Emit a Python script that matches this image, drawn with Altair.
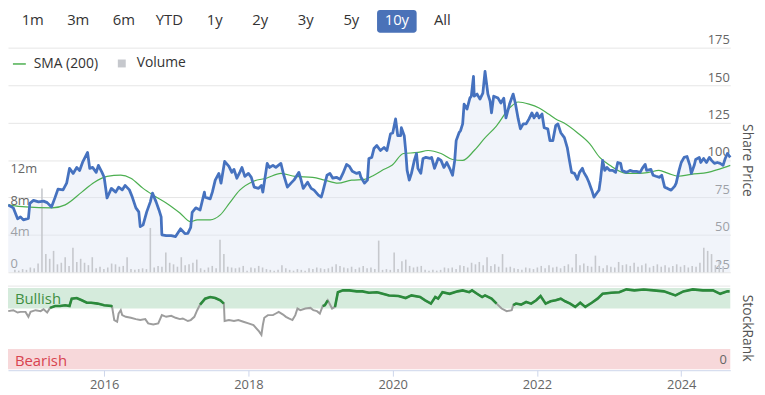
import altair as alt
import pandas as pd
import numpy as np

# ---------------- data ----------------
BUTTONS = ["1m", "3m", "6m", "YTD", "1y", "2y", "3y", "5y", "10y", "All"]
ACTIVE_BUTTON = "10y"

YEAR_TICKS = [2016, 2018, 2020, 2022, 2024]
PRICE_TICKS = [25, 50, 75, 100, 125, 150, 175]
VOLUME_TICKS = [0, 4, 8, 12]
RANK_TICKS = [0]

TIME_DOMAIN = [2014.667, 2024.68]
PRICE_DOMAIN = [25, 175]
VOLUME_DOMAIN = [0, 28.4]
RANK_DOMAIN = [0, 102.5]
BULLISH_LEVEL = 75

BAND_NAMES = ["Bullish", "Bearish"]
BAND_LO = [75, 0]
BAND_HI = [100, 25]
BAND_LABEL_AT = [87, 10]

# share price (decimal year, price)
PRICE_POINTS = [
    (2014.67, 69.9), (2014.74, 68), (2014.80, 60.7), (2014.84, 62), (2014.88, 60), (2014.95, 61),
    (2014.97, 71), (2015.02, 73), (2015.09, 72), (2015.16, 72.5), (2015.21, 71.5), (2015.27, 68.6),
    (2015.32, 75), (2015.36, 80.5), (2015.43, 80), (2015.48, 84.5), (2015.52, 94.4), (2015.57, 91),
    (2015.62, 95), (2015.66, 93), (2015.70, 98.3), (2015.77, 105), (2015.80, 94.4), (2015.84, 95),
    (2015.89, 91.7), (2015.92, 96.4), (2015.97, 91.7), (2016.00, 88.4), (2016.04, 74.6), (2016.10, 81),
    (2016.16, 78.5), (2016.20, 81.8), (2016.25, 80), (2016.29, 83), (2016.35, 80), (2016.39, 75.2),
    (2016.44, 68), (2016.48, 65.3), (2016.50, 55.4), (2016.54, 56.7), (2016.59, 65.3), (2016.64, 72),
    (2016.67, 77.9), (2016.72, 72), (2016.76, 66.6), (2016.79, 62), (2016.80, 50), (2016.86, 49.4),
    (2016.93, 49.4), (2016.99, 48.8), (2017.06, 54), (2017.12, 50.8), (2017.16, 51), (2017.20, 55),
    (2017.22, 65), (2017.27, 68), (2017.33, 66.6), (2017.39, 78.5), (2017.40, 75.2), (2017.47, 74),
    (2017.50, 78.5), (2017.54, 86.5), (2017.59, 91), (2017.62, 84.5), (2017.67, 99), (2017.73, 95.7),
    (2017.77, 91.7), (2017.80, 93.7), (2017.84, 87.8), (2017.88, 91.7), (2017.91, 95), (2017.95, 89),
    (2018.00, 91), (2018.04, 88.4), (2018.08, 81.8), (2018.14, 81), (2018.18, 83), (2018.20, 78.5),
    (2018.26, 97.7), (2018.29, 95), (2018.34, 96.4), (2018.38, 95), (2018.45, 97.7), (2018.49, 89.8),
    (2018.54, 81.8), (2018.59, 84.5), (2018.63, 86.5), (2018.70, 91.7), (2018.72, 88.4), (2018.76, 81),
    (2018.82, 85.1), (2018.87, 81), (2018.91, 79.8), (2018.97, 76.5), (2019.01, 75.2), (2019.03, 78.5),
    (2019.09, 89.8), (2019.13, 91), (2019.17, 87.8), (2019.22, 88.4), (2019.27, 87), (2019.31, 91),
    (2019.36, 97), (2019.40, 95.7), (2019.44, 92.4), (2019.50, 91), (2019.54, 91.7), (2019.56, 88.4),
    (2019.61, 84.5), (2019.65, 86.5), (2019.67, 101), (2019.71, 101.7), (2019.74, 107.6), (2019.78, 109.6),
    (2019.83, 106.3), (2019.88, 108.3), (2019.92, 106.3), (2019.97, 117.5), (2020.00, 118), (2020.04, 127.4),
    (2020.07, 116.2), (2020.11, 116.2), (2020.12, 121.5), (2020.16, 116.2), (2020.18, 106.3), (2020.20, 93),
    (2020.23, 86.5), (2020.26, 91), (2020.30, 99.7), (2020.33, 104.3), (2020.35, 94.4), (2020.39, 91),
    (2020.42, 101), (2020.46, 101.7), (2020.52, 101), (2020.54, 101.7), (2020.58, 94.4), (2020.63, 101),
    (2020.67, 99.7), (2020.71, 95), (2020.75, 98.3), (2020.79, 94.4), (2020.83, 89.8), (2020.86, 99.7),
    (2020.88, 112.9), (2020.92, 118.2), (2020.94, 119.5), (2020.97, 124.1), (2020.99, 137.3), (2021.03, 134),
    (2021.07, 141.3), (2021.09, 142.6), (2021.12, 155.8), (2021.13, 142.6), (2021.17, 144), (2021.21, 140.6),
    (2021.25, 144.6), (2021.28, 159.1), (2021.32, 144), (2021.35, 139.3), (2021.37, 131.4), (2021.40, 142.6),
    (2021.46, 141.3), (2021.50, 138), (2021.54, 141.3), (2021.57, 128.1), (2021.62, 137.3), (2021.67, 144),
    (2021.70, 138), (2021.74, 127.4), (2021.77, 120.8), (2021.81, 124.1), (2021.85, 124.1), (2021.89, 127.4),
    (2021.93, 131.4), (2021.96, 128.1), (2022.00, 131.4), (2022.03, 128.1), (2022.07, 130.7), (2022.10, 121.5),
    (2022.15, 120.8), (2022.18, 112.9), (2022.22, 112.9), (2022.26, 123), (2022.29, 124.1), (2022.33, 118.2),
    (2022.38, 114.9), (2022.42, 108.3), (2022.45, 99.7), (2022.48, 91.7), (2022.52, 91), (2022.56, 87),
    (2022.59, 91.7), (2022.63, 94.4), (2022.65, 91.7), (2022.69, 88.4), (2022.72, 85.1), (2022.76, 79.8),
    (2022.79, 75.2), (2022.83, 77.9), (2022.86, 79.8), (2022.88, 86.5), (2022.91, 99.7), (2022.94, 93),
    (2022.97, 95), (2023.01, 93), (2023.05, 93), (2023.09, 91.7), (2023.12, 98.3), (2023.16, 97.7),
    (2023.18, 93), (2023.24, 91.7), (2023.29, 93), (2023.33, 92.4), (2023.38, 92.4), (2023.43, 91.7),
    (2023.46, 94.4), (2023.50, 97), (2023.52, 93), (2023.58, 93.7), (2023.61, 89.8), (2023.65, 89.1),
    (2023.70, 88.4), (2023.73, 89.8), (2023.77, 81.8), (2023.81, 81), (2023.86, 79.8), (2023.91, 82.5),
    (2023.93, 84.5), (2023.97, 93), (2024.00, 98.3), (2024.04, 101.7), (2024.08, 102.3), (2024.12, 96.4),
    (2024.14, 91), (2024.18, 96.4), (2024.20, 100.3), (2024.25, 101.7), (2024.27, 98.3), (2024.31, 101),
    (2024.35, 98.3), (2024.39, 101.7), (2024.42, 99.7), (2024.46, 97.7), (2024.50, 98.3), (2024.54, 97.7),
    (2024.58, 96.4), (2024.61, 101), (2024.64, 104.3), (2024.68, 101.7),
]

# 200-day simple moving average
SMA_POINTS = [
    (2014.67, 70), (2014.91, 68.6), (2015.28, 68), (2015.46, 70), (2015.69, 78.5), (2015.86, 85),
    (2016.04, 89), (2016.23, 89.8), (2016.37, 87.8), (2016.54, 81), (2016.68, 76.5), (2016.86, 71.3),
    (2017.05, 64.6), (2017.20, 58.7), (2017.29, 60), (2017.47, 60), (2017.61, 63.3), (2017.74, 71.3),
    (2017.88, 79.8), (2018.07, 85.8), (2018.25, 87.8), (2018.45, 91), (2018.65, 89), (2018.89, 88.4),
    (2019.06, 86.5), (2019.24, 84.5), (2019.43, 86.5), (2019.61, 87), (2019.74, 89.8), (2019.85, 93),
    (2019.99, 96.4), (2020.15, 104.3), (2020.35, 105), (2020.49, 106.3), (2020.67, 104.3), (2020.83, 100.3),
    (2020.97, 99.7), (2021.13, 106.3), (2021.27, 114.2), (2021.44, 122.8), (2021.62, 134.7), (2021.74, 138.7),
    (2021.89, 137.3), (2022.03, 134.7), (2022.16, 130.7), (2022.26, 127.4), (2022.37, 124.8), (2022.56, 118.2),
    (2022.73, 110.9), (2022.87, 101.7), (2023.01, 96.4), (2023.24, 91), (2023.42, 91), (2023.55, 91.7),
    (2023.69, 93), (2023.82, 91), (2023.96, 89.1), (2024.14, 90.4), (2024.37, 91.7), (2024.60, 95),
    (2024.68, 96.4),
]

# StockRank (0-100)
RANK_POINTS = [
    (2014.67, 71.6), (2014.74, 72.8), (2014.80, 69.9), (2014.84, 70.7), (2014.91, 70.7), (2014.95, 64.6),
    (2014.98, 70.7), (2015.05, 72.8), (2015.12, 71.6), (2015.16, 74), (2015.21, 69.9), (2015.25, 75.6),
    (2015.32, 78), (2015.39, 78), (2015.46, 78.9), (2015.52, 78), (2015.55, 87), (2015.62, 87.8),
    (2015.69, 85), (2015.76, 82), (2015.82, 82), (2015.91, 80.9), (2016.00, 78.9), (2016.10, 78),
    (2016.11, 77), (2016.14, 60.6), (2016.18, 58.5), (2016.20, 68.7), (2016.23, 72.8), (2016.25, 66.7),
    (2016.30, 64.6), (2016.37, 63.4), (2016.44, 61.8), (2016.50, 60.6), (2016.57, 61.8), (2016.61, 56.5),
    (2016.68, 55.3), (2016.75, 56.5), (2016.80, 66.7), (2016.86, 64.6), (2016.93, 65.9), (2016.99, 63.4),
    (2017.05, 61.8), (2017.09, 62.6), (2017.16, 59.4), (2017.20, 60.6), (2017.25, 64.6), (2017.29, 72.8),
    (2017.33, 79.7), (2017.40, 87), (2017.47, 89), (2017.54, 87.8), (2017.61, 85), (2017.66, 80.9),
    (2017.67, 59.4), (2017.73, 60.6), (2017.80, 59.4), (2017.86, 60.6), (2017.93, 58.5), (2018.00, 56.5),
    (2018.07, 54.5), (2018.11, 50.4), (2018.15, 46.3), (2018.18, 42.3), (2018.20, 54.5), (2018.22, 63.4),
    (2018.27, 66.7), (2018.34, 66.7), (2018.38, 68.7), (2018.42, 70.7), (2018.48, 67.4), (2018.52, 64.6),
    (2018.56, 62.6), (2018.61, 60.6), (2018.65, 66.7), (2018.68, 74.8), (2018.72, 72.8), (2018.79, 74.8),
    (2018.86, 75.6), (2018.90, 72.8), (2018.95, 71.6), (2018.99, 68.7), (2019.03, 78), (2019.06, 78.9),
    (2019.10, 85), (2019.16, 74.8), (2019.20, 76.8), (2019.24, 95), (2019.31, 97.2), (2019.40, 97.2),
    (2019.50, 96), (2019.58, 96), (2019.67, 94.3), (2019.78, 95), (2019.81, 94.3), (2019.95, 91),
    (2020.08, 90.2), (2020.18, 87.8), (2020.26, 91), (2020.38, 89), (2020.45, 85), (2020.53, 80.9),
    (2020.59, 89), (2020.63, 87), (2020.69, 95), (2020.79, 93), (2020.90, 96), (2020.97, 97.2),
    (2021.06, 95), (2021.10, 97.2), (2021.17, 93), (2021.24, 89), (2021.28, 91), (2021.37, 87),
    (2021.44, 80.9), (2021.51, 74.8), (2021.58, 71.6), (2021.65, 72.8), (2021.67, 78.9), (2021.71, 80.9),
    (2021.78, 79.7), (2021.85, 82.9), (2021.92, 80.9), (2021.99, 85), (2022.05, 90.2), (2022.12, 80.9),
    (2022.19, 83.8), (2022.26, 85), (2022.33, 87), (2022.39, 83.8), (2022.46, 80.9), (2022.53, 76.8),
    (2022.60, 82), (2022.67, 76.8), (2022.76, 82), (2022.84, 87), (2022.91, 93), (2023.03, 94.3),
    (2023.14, 95), (2023.24, 98.4), (2023.35, 97.2), (2023.48, 98.4), (2023.62, 97.2), (2023.76, 96),
    (2023.92, 91), (2024.03, 96), (2024.16, 98.4), (2024.30, 97.2), (2024.44, 97.2), (2024.54, 93),
    (2024.64, 96), (2024.67, 96),
]

# volume in millions, one bar per ~20 days from the start of the range
VOLUME_START = 2014.694
VOLUME_STEP = 0.0544
VOLUME_M = [
    0.3, 0.2, 0.4, 0.3, 0.6, 0.5, 1.1, 10.6, 2.3, 1.7,
    2.7, 1.0, 1.2, 1.9, 0.8, 3.1, 1.3, 1.7, 1.2, 0.9,
    1.9, 0.5, 0.7, 0.4, 0.6, 1.1, 1.0, 0.7, 0.8, 1.9,
    0.4, 0.3, 0.4, 0.5, 0.4, 5.6, 0.6, 0.8, 0.7, 2.5,
    1.2, 1.0, 0.7, 1.9, 0.9, 1.0, 1.2, 1.6, 0.5, 0.3,
    0.6, 0.8, 0.5, 4.1, 2.3, 0.7, 0.6, 0.5, 0.6, 0.8,
    0.2, 0.6, 0.5, 0.8, 0.6, 0.4, 0.3, 0.2, 0.3, 0.9,
    0.5, 0.3, 0.2, 0.4, 0.3, 0.2, 0.5, 0.4, 0.6, 0.5,
    0.4, 0.5, 0.7, 1.0, 0.8, 0.6, 0.5, 0.7, 0.4, 0.6,
    0.8, 0.5, 0.6, 0.4, 4.0, 0.3, 0.4, 0.3, 2.5, 0.4,
    1.4, 1.6, 0.8, 0.6, 0.7, 0.8, 0.3, 0.2, 0.3, 0.2,
    0.3, 0.6, 0.5, 0.6, 0.4, 0.9, 0.8, 0.6, 1.2, 1.0,
    1.3, 0.9, 1.9, 0.8, 1.0, 0.7, 2.3, 0.6, 0.7, 0.5,
    0.4, 0.3, 0.6, 0.5, 0.4, 0.6, 0.8, 0.5, 0.9, 0.6,
    0.7, 0.5, 0.8, 1.0, 0.6, 2.3, 0.9, 1.1, 0.8, 0.7,
    2.1, 0.8, 0.5, 0.9, 0.7, 0.6, 1.3, 0.9, 1.0, 0.8,
    1.2, 0.7, 0.9, 1.1, 0.6, 0.8, 1.0, 0.7, 0.9, 0.6,
    0.8, 1.0, 0.7, 0.9, 0.6, 0.8, 0.7, 1.2, 3.1, 2.7,
    2.3, 0.9, 1.4, 0.8,
]

# ---------------- styles / layout ----------------
W, H = 730, 364
PRICE_RANGE = [265, 38]
RANK_RANGE = [363, 279]
BTN_RANGE = [25, 439]
FONT = "Open Sans"
BLUE = "#4672bf"
GREEN_SMA = "#4caf50"
GREEN_RANK = "#2b8a3b"
GRAY_RANK = "#9d9d9d"
VOL_GRAY = "#c6c8cd"
BAND_FILL = {"Bullish": "#d5ebdc", "Bearish": "#f7d8da"}
BAND_TEXT = {"Bullish": "#3f8f42", "Bearish": "#d8434f"}
TITLE_X = 16

# ---------------- frames ----------------
price_df = pd.DataFrame(PRICE_POINTS, columns=["t", "v"])
sma_df = pd.DataFrame(SMA_POINTS, columns=["t", "v"]).assign(series="SMA (200)")
rank_df = pd.DataFrame(RANK_POINTS, columns=["t", "v"])
bull = rank_df["v"] >= BULLISH_LEVEL
run_id = (bull != bull.shift()).cumsum()
green_df = rank_df[bull].assign(seg=run_id[bull])
vol_df = pd.DataFrame({
    "t": VOLUME_START + VOLUME_STEP * np.arange(len(VOLUME_M)),
    "m": VOLUME_M,
    "series": "Volume",
})
band_df = pd.DataFrame({"name": BAND_NAMES, "lo": BAND_LO, "hi": BAND_HI, "at": BAND_LABEL_AT})
band_df["fill"] = band_df["name"].map(BAND_FILL)
band_df["tc"] = band_df["name"].map(BAND_TEXT)
btn_df = pd.DataFrame({"label": BUTTONS, "i": list(range(len(BUTTONS)))})
btn_df["active"] = btn_df["label"] == ACTIVE_BUTTON
btn_df["tc"] = np.where(btn_df["active"], "#ffffff", "#333333")


def tscale():
    return alt.Scale(domain=TIME_DOMAIN, nice=False, zero=False)


price_scale = alt.Scale(domain=PRICE_DOMAIN, range=PRICE_RANGE, nice=False, zero=False)
vol_scale = alt.Scale(domain=VOLUME_DOMAIN, range=PRICE_RANGE, nice=False, zero=False)
rank_scale = alt.Scale(domain=RANK_DOMAIN, range=RANK_RANGE, nice=False, zero=False)
btn_scale = alt.Scale(domain=[0, len(BUTTONS) - 1], range=BTN_RANGE, nice=False, zero=False)

price_axis = alt.Axis(
    orient="right", values=PRICE_TICKS, grid=True, gridColor="#e6e6e6", domain=False, ticks=False,
    labelAlign="right", labelBaseline="bottom", labelPadding=-1, labelOffset=-1,
    labelColor="#666666", labelFontSize=13, labelFont=FONT,
    title="Share Price", titleX=TITLE_X, titleY=(PRICE_RANGE[0] + PRICE_RANGE[1]) / 2,
    titleAngle=90, titleAlign="center", titleBaseline="middle", titleFontSize=14,
    titleFontWeight="normal", titleColor="#555555", titleFont=FONT, offset=0,
)
vol_axis = alt.Axis(
    orient="left", values=VOLUME_TICKS, grid=False, domain=False, ticks=False,
    labelAlign="left", labelBaseline="bottom", labelPadding=-2, labelOffset=-2,
    labelExpr="datum.value == 0 ? '0' : datum.value + 'm'",
    labelColor="#666666", labelFontSize=13, labelFont=FONT, title="", offset=0,
)
rank_axis = alt.Axis(
    orient="right", values=RANK_TICKS, grid=False, domain=False, ticks=False,
    labelAlign="right", labelBaseline="bottom", labelPadding=-4, labelOffset=-3,
    labelColor="#666666", labelFontSize=13, labelFont=FONT, zindex=2,
    title="StockRank", titleX=TITLE_X, titleY=(RANK_RANGE[0] + RANK_RANGE[1]) / 2,
    titleAngle=90, titleAlign="center", titleBaseline="middle", titleFontSize=14,
    titleFontWeight="normal", titleColor="#555555", titleFont=FONT, offset=0,
)
x_axis = alt.Axis(
    orient="bottom", values=YEAR_TICKS, format="d", grid=False, domainColor="#ccd6eb",
    tickColor="#ccd6eb", tickSize=6, labelColor="#666666", labelFontSize=13, labelFont=FONT,
    labelPadding=3, labelFlush=False, title="",
)

# ---------------- layers ----------------
bands = alt.Chart(band_df).mark_rect().encode(
    x=alt.X(datum=TIME_DOMAIN[0], scale=tscale(), axis=None),
    x2=alt.X2(datum=TIME_DOMAIN[1]),
    y=alt.Y("lo:Q", scale=rank_scale, axis=None),
    y2="hi:Q",
    color=alt.Color("fill:N", scale=None),
)

separator = alt.Chart(band_df.head(1)).mark_rule(color="#e6e6e6", strokeWidth=1).encode(
    x=alt.X(datum=TIME_DOMAIN[0], scale=tscale(), axis=None),
    x2=alt.X2(datum=TIME_DOMAIN[1]),
    y=alt.Y(datum=RANK_DOMAIN[1], scale=rank_scale, axis=None),
)

area = alt.Chart(price_df).mark_area(color="#dfe6f3", opacity=0.45).encode(
    x=alt.X("t:Q", scale=tscale(), axis=None),
    y=alt.Y("v:Q", scale=price_scale, axis=price_axis),
    y2=alt.Y2(datum=PRICE_DOMAIN[0]),
)

volume = alt.Chart(vol_df).mark_bar(size=1.6).encode(
    x=alt.X("t:Q", scale=tscale(), axis=None),
    y=alt.Y("m:Q", scale=vol_scale, axis=vol_axis),
    fill=alt.Fill("series:N", scale=alt.Scale(domain=["Volume"], range=[VOL_GRAY]),
                  legend=alt.Legend(orient="none", legendX=108, legendY=47, title="",
                                    symbolType="square", symbolSize=64, labelFontSize=14,
                                    labelColor="#333333", labelFont=FONT, labelOffset=8)),
)

sma = alt.Chart(sma_df).mark_line(strokeWidth=1.2, interpolate="monotone").encode(
    x=alt.X("t:Q", scale=tscale(), axis=None),
    y=alt.Y("v:Q", scale=price_scale, axis=None),
    stroke=alt.Stroke("series:N", scale=alt.Scale(domain=["SMA (200)"], range=[GREEN_SMA]),
                      legend=alt.Legend(orient="none", legendX=4, legendY=47, title="",
                                        symbolType="stroke", symbolSize=170, symbolStrokeWidth=1.5,
                                        labelFontSize=14, labelColor="#333333", labelFont=FONT,
                                        labelOffset=7)),
)

price_line = alt.Chart(price_df).mark_line(color=BLUE, strokeWidth=2.8, strokeJoin="round").encode(
    x=alt.X("t:Q", scale=tscale(), axis=None),
    y=alt.Y("v:Q", scale=price_scale, axis=None),
)

rank_gray = alt.Chart(rank_df).mark_line(color=GRAY_RANK, strokeWidth=2).encode(
    x=alt.X("t:Q", scale=tscale(), axis=x_axis),
    y=alt.Y("v:Q", scale=rank_scale, axis=rank_axis),
)

rank_green = alt.Chart(green_df).mark_line(color=GREEN_RANK, strokeWidth=2.6).encode(
    x=alt.X("t:Q", scale=tscale(), axis=None),
    y=alt.Y("v:Q", scale=rank_scale, axis=None),
    detail="seg:N",
)

band_labels = alt.Chart(band_df).mark_text(align="left", baseline="middle", fontSize=15, font=FONT).encode(
    x=alt.value(7),
    y=alt.Y("at:Q", scale=rank_scale, axis=None),
    text="name:N",
    color=alt.Color("tc:N", scale=None),
)

btn_box = alt.Chart(btn_df[btn_df["active"]]).transform_calculate(
    lo="datum.i - 0.435", hi="datum.i + 0.435"
).mark_rect(cornerRadius=3, color="#4a72b8").encode(
    x=alt.X("lo:Q", scale=btn_scale, axis=None),
    x2="hi:Q",
    y=alt.value(0),
    y2=alt.value(23),
)

btn_text = alt.Chart(btn_df).mark_text(fontSize=15, baseline="middle", font=FONT).encode(
    x=alt.X("i:Q", scale=btn_scale, axis=None),
    y=alt.value(10),
    text="label:N",
    color=alt.Color("tc:N", scale=None),
)

chart = alt.layer(
    bands, separator, area, volume, sma, price_line, band_labels, rank_gray, rank_green,
    btn_box, btn_text,
).resolve_scale(
    x="independent", y="independent", color="independent", fill="independent", stroke="independent"
).properties(
    width=W, height=H,
    autosize=alt.AutoSizeParams(type="none"),
    padding={"left": 0, "top": 0, "right": 27, "bottom": 23},
    background="white",
).configure(font=FONT).configure_view(strokeWidth=0)

chart.save("out.html", embed_options={"renderer": "svg", "actions": False})
